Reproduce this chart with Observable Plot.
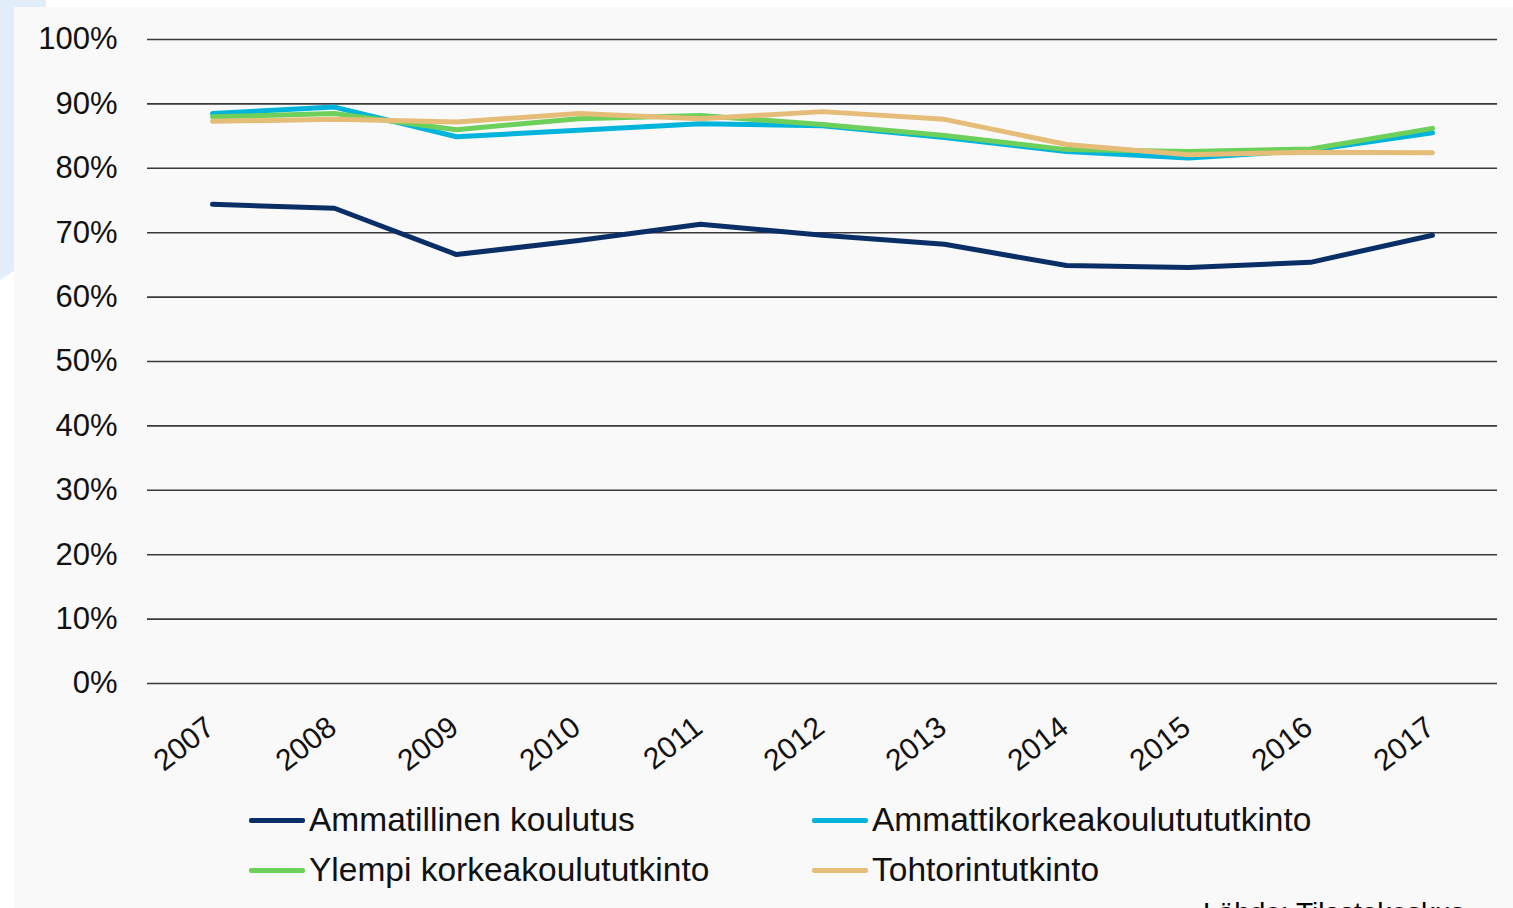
<!DOCTYPE html>
<html>
<head>
<meta charset="utf-8">
<script src="https://cdn.jsdelivr.net/npm/d3@7"></script>
<script src="https://cdn.jsdelivr.net/npm/@observablehq/plot@0.6"></script>
<style>
  html, body { margin: 0; padding: 0; }
  body { width: 1513px; height: 908px; overflow: hidden; background: #ffffff; position: relative; font-family: "Liberation Sans", Arial, sans-serif; }
  #blue { position: absolute; left: 0; top: 0; width: 50px; height: 285px; background: #e1eef9; clip-path: polygon(0 0, 46px 0, 46px 250px, 0 280px); }
  #panel { position: absolute; left: 14px; top: 7px; right: 0; bottom: 0; background: #f9f9f9; }
  #chart { position: absolute; left: 0; top: 0; }
  .leg { position: absolute; font-size: 33.5px; color: #111; line-height: 1; white-space: nowrap; }
  .leg .sw { display: inline-block; width: 56px; height: 5px; border-radius: 2px; vertical-align: middle; margin-right: 4px; position: relative; top: -2px; }
  #src { position: absolute; left: 1203px; top: 899px; font-size: 28px; line-height: 1; color: #000; white-space: nowrap; }
</style>
</head>
<body>
<div id="blue"></div>
<div id="panel"></div>
<div id="chart"></div>
<div id="legend"></div>
<div id="src">Lähde: Tilastokeskus</div>
<script>
const years = ["2007","2008","2009","2010","2011","2012","2013","2014","2015","2016","2017"];
const seriesNames = ["Ammatillinen koulutus","Ammattikorkeakoulutututkinto","Ylempi korkeakoulututkinto","Tohtorintutkinto"];
const seriesColors = ["#0a2f66","#00b4dc","#6cd05a","#e6bd78"];
const ammatillinen = [74.4, 73.8, 66.6, 68.8, 71.3, 69.6, 68.2, 64.9, 64.6, 65.4, 69.6];
const amk =          [88.5, 89.5, 84.9, 85.9, 86.9, 86.6, 84.8, 82.6, 81.6, 82.8, 85.5];
const ylempi =       [88.0, 88.5, 86.0, 87.7, 88.2, 86.8, 85.1, 82.9, 82.6, 83.0, 86.2];
const tohtori =      [87.3, 87.6, 87.2, 88.5, 87.7, 88.8, 87.6, 83.7, 82.1, 82.5, 82.4];
const yTicks = [0,10,20,30,40,50,60,70,80,90,100];

const seriesValues = [ammatillinen, amk, ylempi, tohtori];
const data = [];
seriesNames.forEach((s, i) => years.forEach((y, j) => data.push({series: s, year: y, value: seriesValues[i][j]})));

const chart = Plot.plot({
  width: 1513,
  height: 780,
  marginLeft: 147,
  marginRight: 16,
  marginTop: 39,
  marginBottom: 97,
  style: { background: "transparent", fontFamily: "Liberation Sans, Arial, sans-serif", color: "#111" },
  x: { type: "point", domain: years, padding: 0.5 },
  y: { domain: [0, 100] },
  color: { domain: seriesNames, range: seriesColors },
  marks: [
    Plot.ruleY(yTicks, { stroke: "#3a3a3a", strokeWidth: 1.6 }),
    Plot.axisY({ ticks: yTicks, tickFormat: d => d + "%", tickSize: 0, tickPadding: 30, fontSize: 31, label: null }),
    Plot.axisX({ tickSize: 0, tickRotate: -38, fontSize: 30, tickPadding: 40, dx: -2, label: null }),
    Plot.line(data, { x: "year", y: "value", z: "series", stroke: "series", strokeWidth: 5, strokeLinejoin: "round", strokeLinecap: "round" })
  ]
});
document.getElementById("chart").appendChild(chart);

const legend = document.getElementById("legend");
const legPos = [[249, 820], [812, 820], [249, 870], [812, 870]];
seriesNames.forEach((s, i) => {
  const d = document.createElement("div");
  d.className = "leg";
  d.style.left = legPos[i][0] + "px";
  d.style.top = (legPos[i][1] - 17) + "px";
  d.innerHTML = `<span class="sw" style="background:${seriesColors[i]}"></span>${s}`;
  legend.appendChild(d);
});
</script>
</body>
</html>
